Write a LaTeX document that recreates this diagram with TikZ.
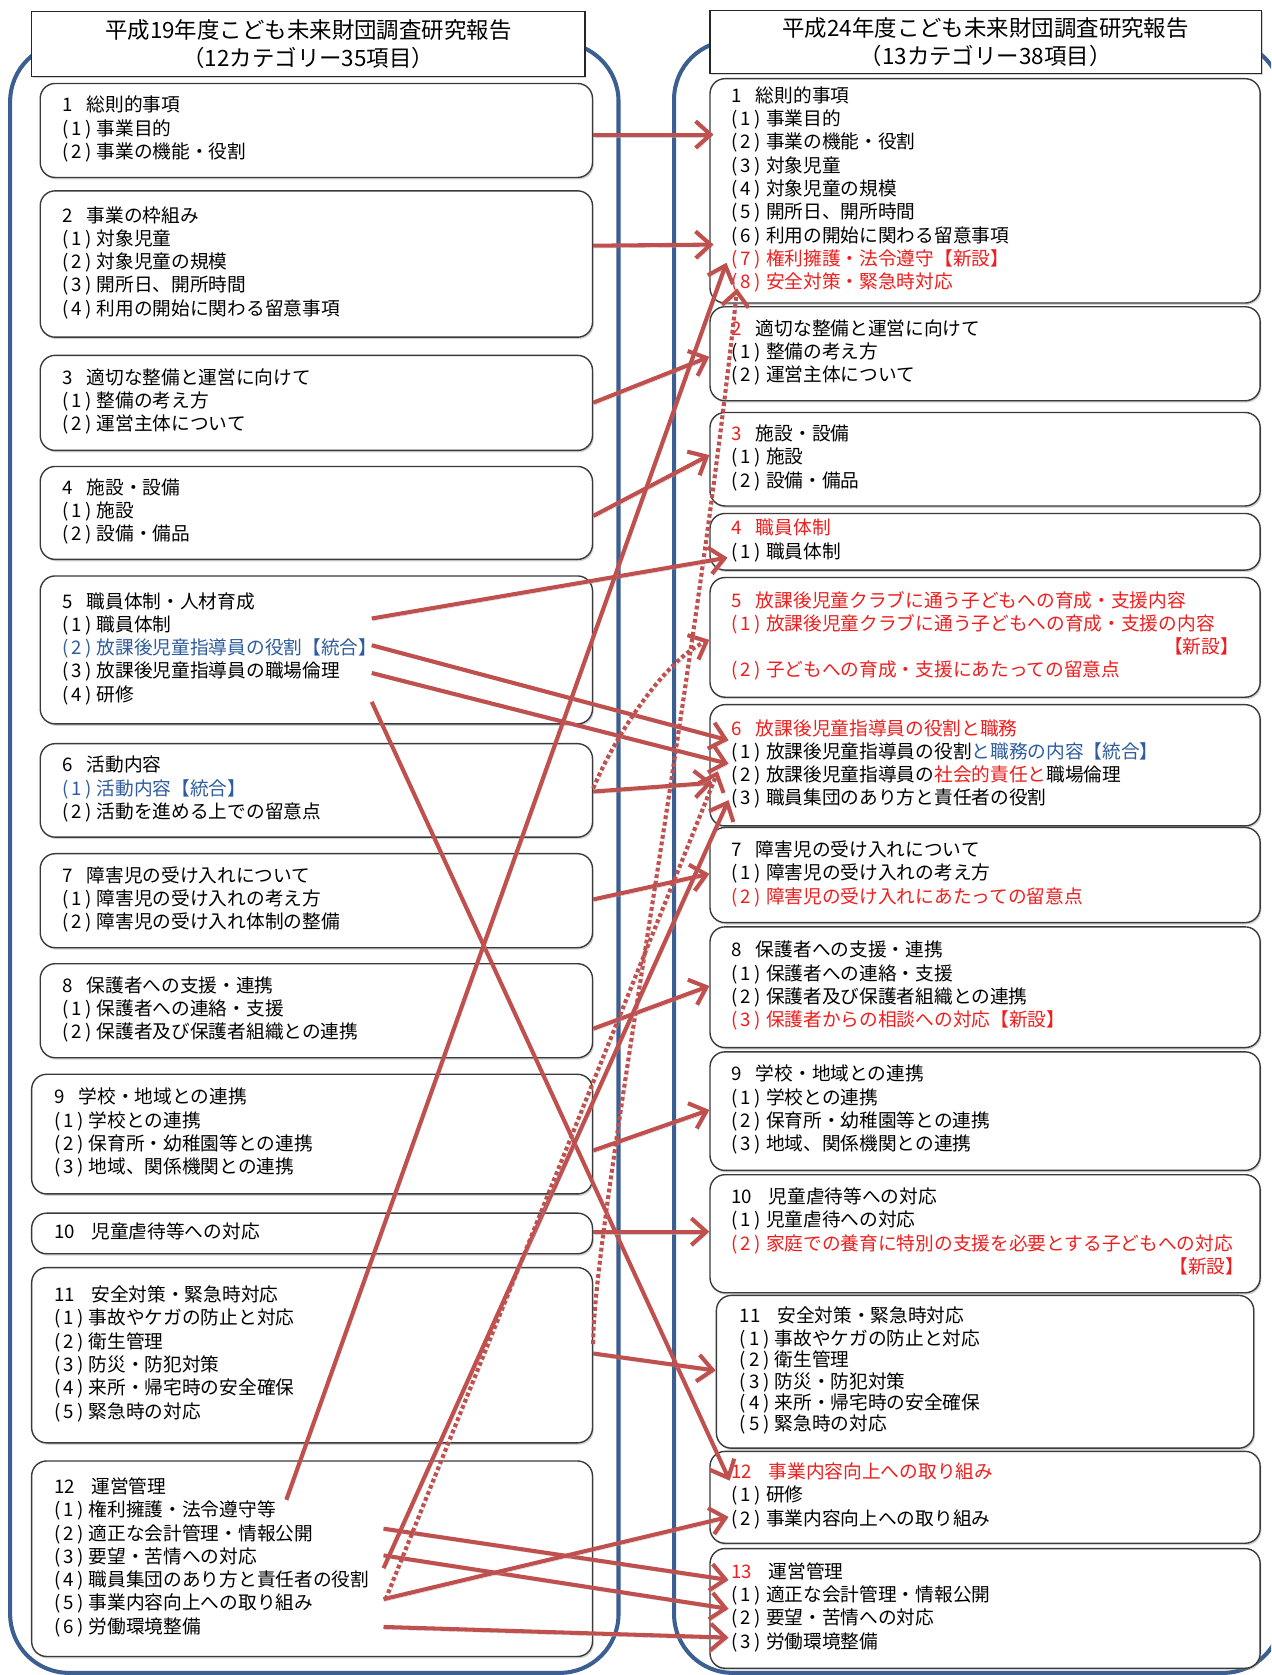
\documentclass[tikz,border=0pt]{standalone}
\usepackage{fontspec}
\setmainfont{Noto Sans CJK JP}
\usetikzlibrary{arrows.meta,shadows}
\definecolor{contblue}{HTML}{3C5F91}
\definecolor{conred}{HTML}{C0504D}
\definecolor{conshadow}{HTML}{A5B3C8}
\definecolor{txtred}{HTML}{F01E1E}
\definecolor{txtblue}{HTML}{2E5C9E}
\definecolor{boxline}{HTML}{3A3A3A}
\newcommand\pn[1]{\makebox[32.5pt][l]{(\hspace{3pt}#1\hspace{3pt})}}
\newcommand\nm[1]{\makebox[23pt][l]{#1}}
\newcommand\nmm[1]{\makebox[35pt][l]{#1}}
\newcommand\rd[1]{\textcolor{txtred}{#1}}
\newcommand\blu[1]{\textcolor{txtblue}{#1}}
\begin{document}
\begin{tikzpicture}[x=1pt,y=-1pt,
  cont/.style={draw=contblue, line width=3.8pt, rounded corners=55pt},
  ttl/.style={draw=black!85, line width=1.3pt, fill=white, anchor=north west, align=center, inner sep=0pt,
    font=\fontsize{21}{26}\selectfont, drop shadow={shadow xshift=1.2pt, shadow yshift=-1.5pt, opacity=0.35}},
  box/.style={draw=boxline, line width=1.3pt, fill=white, rounded corners=14pt, anchor=north west, align=left,
    inner xsep=20.5pt, inner ysep=0pt, font=\fontsize{17.5}{21.8}\selectfont,
    execute at begin node=\strut, execute at end node=\strut,
    drop shadow={shadow xshift=1.2pt, shadow yshift=-1.8pt, opacity=0.35}},
  lbox/.style={box, text width=476pt},
  wbox/.style={box, inner xsep=21pt, text width=483pt},
  rbox/.style={box, inner xsep=20pt, text width=475pt},
  conn/.style={draw=conred, line width=3.8pt, -{Straight Barb[length=14pt,width=25pt]},
    preaction={draw=conshadow, opacity=0.6, transform canvas={xshift=1.3pt,yshift=-2.2pt}}},
  dconn/.style={conn, dash pattern=on 3.6pt off 2.6pt}
]
\path[use as bounding box] (0,0) rectangle (1190,1568);
\clip (0,0) rectangle (1190,1568);
% containers
\draw[cont] (9.5,40) rectangle (579,1566);
\draw[cont] (631,38) rectangle (1200,1566);
% titles
\node[ttl, minimum width=518pt, minimum height=61pt] (LT) at (29,10) {平成19年度こども未来財団調査研究報告\\（12カテゴリー35項目）};
\node[ttl, minimum width=516pt, minimum height=59pt] (RT) at (664,9) {平成24年度こども未来財団調査研究報告\\（13カテゴリー38項目）};
% left boxes
\node[lbox, minimum height=88pt] (L1) at (37,77.5) {\nm{1}総則的事項\\\pn{1}事業目的\\\pn{2}事業の機能・役割};
\node[lbox, minimum height=137pt] (L2) at (37,178) {\nm{2}事業の枠組み\\\pn{1}対象児童\\\pn{2}対象児童の規模\\\pn{3}開所日、開所時間\\\pn{4}利用の開始に関わる留意事項};
\node[lbox, minimum height=89pt] (L3) at (37,332) {\nm{3}適切な整備と運営に向けて\\\pn{1}整備の考え方\\\pn{2}運営主体について};
\node[lbox, minimum height=87pt] (L4) at (37,436) {\nm{4}施設・設備\\\pn{1}施設\\\pn{2}設備・備品};
\node[lbox, minimum height=138.5pt] (L5) at (37,538.5) {\nm{5}職員体制・人材育成\\\pn{1}職員体制\\\blu{\pn{2}放課後児童指導員の役割【統合】}\\\pn{3}放課後児童指導員の職場倫理\\\pn{4}研修};
\node[lbox, minimum height=87.5pt] (L6) at (37,695.5) {\nm{6}活動内容\\\blu{\pn{1}活動内容【統合】}\\\pn{2}活動を進める上での留意点};
\node[lbox, minimum height=88pt] (L7) at (37,798.5) {\nm{7}障害児の受け入れについて\\\pn{1}障害児の受け入れの考え方\\\pn{2}障害児の受け入れ体制の整備};
\node[lbox, minimum height=88pt] (L8) at (37,901.5) {\nm{8}保護者への支援・連携\\\pn{1}保護者への連絡・支援\\\pn{2}保護者及び保護者組織との連携};
\node[wbox, minimum height=112pt] (L9) at (29,1005) {\nm{9}学校・地域との連携\\\pn{1}学校との連携\\\pn{2}保育所・幼稚園等との連携\\\pn{3}地域、関係機関との連携};
\node[wbox, minimum height=38pt] (L10) at (29,1135) {\nmm{10}児童虐待等への対応};
\node[wbox, minimum height=164pt] (L11) at (29,1186) {\nmm{11}安全対策・緊急時対応\\\pn{1}事故やケガの防止と対応\\\pn{2}衛生管理\\\pn{3}防災・防犯対策\\\pn{4}来所・帰宅時の安全確保\\\pn{5}緊急時の対応};
\node[wbox, minimum height=183pt] (L12) at (29,1367) {\nmm{12}運営管理\\\pn{1}権利擁護・法令遵守等\\\pn{2}適正な会計管理・情報公開\\\pn{3}要望・苦情への対応\\\pn{4}職員集団のあり方と責任者の役割\\\pn{5}事業内容向上への取り組み\\\pn{6}労働環境整備};
% right boxes
\node[rbox, minimum height=210pt] (R1) at (664,73) {\nm{1}総則的事項\\\pn{1}事業目的\\\pn{2}事業の機能・役割\\\pn{3}対象児童\\\pn{4}対象児童の規模\\\pn{5}開所日、開所時間\\\pn{6}利用の開始に関わる留意事項\\\rd{\pn{7}権利擁護・法令遵守【新設】}\\\rd{\pn{8}安全対策・緊急時対応}};
\node[rbox, minimum height=88pt] (R2) at (664,286.5) {\rd{\nm{2}}適切な整備と運営に向けて\\\pn{1}整備の考え方\\\pn{2}運営主体について};
\node[rbox, minimum height=87.5pt] (R3) at (664,385.5) {\rd{\nm{3}}施設・設備\\\pn{1}施設\\\pn{2}設備・備品};
\node[rbox, minimum height=53pt] (R4) at (664,480) {\rd{\nm{4}職員体制}\\\pn{1}職員体制};
\node[rbox, text=txtred, minimum height=112pt] (R5) at (664,540) {\nm{5}放課後児童クラブに通う子どもへの育成・支援内容\\\pn{1}放課後児童クラブに通う子どもへの育成・支援の内容\\\hspace*{\fill}【新設】\hspace*{18pt}\\\pn{2}子どもへの育成・支援にあたっての留意点};
\node[rbox, minimum height=113.5pt] (R6) at (664,659) {\rd{\nm{6}放課後児童指導員の役割と職務}\\\pn{1}放課後児童指導員の役割\blu{と職務の内容【統合】}\\\pn{2}放課後児童指導員の\rd{社会的責任と}職場倫理\\\pn{3}職員集団のあり方と責任者の役割};
\node[rbox, minimum height=89pt] (R7) at (664,774) {\nm{7}障害児の受け入れについて\\\pn{1}障害児の受け入れの考え方\\\rd{\pn{2}障害児の受け入れにあたっての留意点}};
\node[rbox, minimum height=113pt] (R8) at (664,867) {\nm{8}保護者への支援・連携\\\pn{1}保護者への連絡・支援\\\pn{2}保護者及び保護者組織との連携\\\rd{\pn{3}保護者からの相談への対応【新設】}};
\node[rbox, minimum height=111pt] (R9) at (664,984) {\nm{9}学校・地域との連携\\\pn{1}学校との連携\\\pn{2}保育所・幼稚園等との連携\\\pn{3}地域、関係機関との連携};
\node[rbox, minimum height=110.5pt] (R10) at (664,1099) {\nmm{10}児童虐待等への対応\\\pn{1}児童虐待への対応\\\rd{\pn{2}家庭での養育に特別の支援を必要とする子どもへの対応}\\\hspace*{\fill}\rd{【新設】}\hspace*{-5pt}};
\node[box, inner xsep=22pt, text width=459pt, minimum height=143pt, font=\fontsize{17.5}{20}\selectfont] (R11) at (670,1212) {\nmm{11}安全対策・緊急時対応\\\pn{1}事故やケガの防止と対応\\\pn{2}衛生管理\\\pn{3}防災・防犯対策\\\pn{4}来所・帰宅時の安全確保\\\pn{5}緊急時の対応};
\node[rbox, minimum height=86pt] (R12) at (664,1358) {\rd{\nmm{12}事業内容向上への取り組み}\\\pn{1}研修\\\pn{2}事業内容向上への取り組み};
\node[rbox, minimum height=112pt] (R13) at (664,1449) {\rd{\nmm{13}}運営管理\\\pn{1}適正な会計管理・情報公開\\\pn{2}要望・苦情への対応\\\pn{3}労働環境整備};
% connector points inside boxes
\coordinate (L5a) at (348,579);
\coordinate (L5b) at (348,604);
\coordinate (L5c) at (348,630);
\coordinate (L5d) at (348,657);
\coordinate (L12a) at (268,1404);
\coordinate (L12b) at (359,1431);
\coordinate (L12c) at (359,1456);
\coordinate (L12d) at (359,1468);
\coordinate (L12e) at (359,1497);
\coordinate (L12f) at (359,1523);
\coordinate (L12g) at (361,1497);
\coordinate (R1g) at (680,246);
\coordinate (R1h) at (690,270);
\coordinate (R4a) at (681,522);
\coordinate (R6t) at (682,693);
\coordinate (R6a) at (672,722);
\coordinate (R6b) at (682,715);
\coordinate (R6c) at (682,749);
\coordinate (R12a) at (683,1386);
\coordinate (R12b) at (682,1420);
\coordinate (R13a) at (682,1479);
\coordinate (R13b) at (682,1506);
\coordinate (R13c) at (682,1533);
% connectors
\draw[conn, shorten >=-4pt] (L1.east |- 0,126) -- (R1.west |- 0,126);
\draw[conn, shorten >=-4pt] (L2.east |- 0,230) -- (R1.west |- 0,229);
\draw[conn] (L3.east |- 0,377) -- (R2.west |- 0,334);
\draw[conn] (L4.east |- 0,483) -- (R3.west |- 0,426);
\draw[conn] (L5a) -- (R4a);
\draw[conn] (L5b) -- (R6t);
\draw[conn] (L5c) -- (R6b);
\draw[conn] (L5d) -- (R12a);
\draw[conn, shorten >=-3pt] (L6.east |- 0,741) -- (R6.west |- 0,733);
\draw[dconn] (L6.east |- 0,738) .. controls (575,690) and (622,618) .. (R5.west |- 0,599);
\draw[conn] (L7.east |- 0,842) -- (R7.west |- 0,818);
\draw[conn] (L8.east |- 0,963) -- (R8.west |- 0,923);
\draw[conn] (L9.east |- 0,1077) -- (R9.west |- 0,1039);
\draw[conn] (L10.east |- 0,1153) -- (R10.west |- 0,1153);
\draw[conn] (L11.east |- 0,1267) -- (R11.west |- 0,1283);
\draw[dconn] (L11.east |- 0,1258) .. controls (555,1150) and (650,650) .. (R1h);
\draw[conn] (L12a) -- (R1g);
\draw[conn] (L12b) -- (R13a);
\draw[conn] (L12c) -- (R13b);
\draw[conn] (L12d) -- (R6c);
\draw[conn] (L12e) -- (R12b);
\draw[conn] (L12f) -- (R13c);
\draw[dconn] (L12g) -- (R6a);
\end{tikzpicture}
\end{document}
